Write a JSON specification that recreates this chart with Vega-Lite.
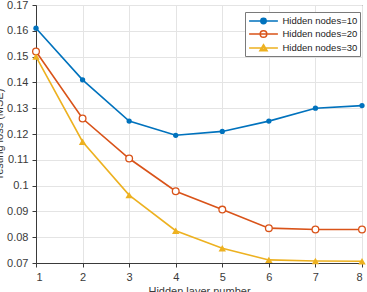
{
  "$schema": "https://vega.github.io/schema/vega-lite/v6.json",
  "autosize": {"type": "none"},
  "width": 326,
  "height": 258,
  "padding": {"left": 36, "top": 5, "right": 5, "bottom": 29},
  "background": "white",
  "config": {
    "font": "Liberation Sans",
    "view": {"stroke": "#3a3a3a", "strokeWidth": 1},
    "axis": {
      "domainColor": "#3a3a3a",
      "tickColor": "#3a3a3a",
      "gridColor": "#e4e4e4",
      "labelColor": "#3a3a3a",
      "titleColor": "#3a3a3a",
      "labelFont": "Liberation Sans",
      "titleFont": "Liberation Sans",
      "labelFontSize": 11,
      "titleFontSize": 11,
      "titleFontWeight": "normal"
    }
  },
  "data": {
    "values": [
      {"layers": 1, "loss": 0.161, "series": "Hidden nodes=10"},
      {"layers": 2, "loss": 0.141, "series": "Hidden nodes=10"},
      {"layers": 3, "loss": 0.125, "series": "Hidden nodes=10"},
      {"layers": 4, "loss": 0.1195, "series": "Hidden nodes=10"},
      {"layers": 5, "loss": 0.121, "series": "Hidden nodes=10"},
      {"layers": 6, "loss": 0.125, "series": "Hidden nodes=10"},
      {"layers": 7, "loss": 0.130, "series": "Hidden nodes=10"},
      {"layers": 8, "loss": 0.131, "series": "Hidden nodes=10"},
      {"layers": 1, "loss": 0.152, "series": "Hidden nodes=20"},
      {"layers": 2, "loss": 0.126, "series": "Hidden nodes=20"},
      {"layers": 3, "loss": 0.1105, "series": "Hidden nodes=20"},
      {"layers": 4, "loss": 0.0978, "series": "Hidden nodes=20"},
      {"layers": 5, "loss": 0.0907, "series": "Hidden nodes=20"},
      {"layers": 6, "loss": 0.0835, "series": "Hidden nodes=20"},
      {"layers": 7, "loss": 0.083, "series": "Hidden nodes=20"},
      {"layers": 8, "loss": 0.083, "series": "Hidden nodes=20"},
      {"layers": 1, "loss": 0.150, "series": "Hidden nodes=30"},
      {"layers": 2, "loss": 0.117, "series": "Hidden nodes=30"},
      {"layers": 3, "loss": 0.0963, "series": "Hidden nodes=30"},
      {"layers": 4, "loss": 0.0825, "series": "Hidden nodes=30"},
      {"layers": 5, "loss": 0.0757, "series": "Hidden nodes=30"},
      {"layers": 6, "loss": 0.0712, "series": "Hidden nodes=30"},
      {"layers": 7, "loss": 0.0708, "series": "Hidden nodes=30"},
      {"layers": 8, "loss": 0.0707, "series": "Hidden nodes=30"}
    ]
  },
  "encoding": {
    "x": {
      "field": "layers", "type": "quantitative",
      "scale": {"domain": [1, 8], "nice": false},
      "axis": {"title": "Hidden layer number", "values": [1,2,3,4,5,6,7,8], "tickSize": 4, "labelPadding": 4, "titlePadding": 3}
    },
    "y": {
      "field": "loss", "type": "quantitative",
      "scale": {"domain": [0.07, 0.17], "nice": false, "zero": false},
      "axis": {"title": "Testing loss (MSE)", "values": [0.07,0.08,0.09,0.1,0.11,0.12,0.13,0.14,0.15,0.16,0.17], "format": "~g", "tickSize": 4, "labelPadding": 4, "titlePadding": 2}
    }
  },
  "layer": [
    {
      "mark": {"type": "line", "strokeWidth": 1.6},
      "encoding": {
        "stroke": {
          "field": "series", "type": "nominal",
          "scale": {"domain": ["Hidden nodes=10", "Hidden nodes=20", "Hidden nodes=30"], "range": ["#0072BD", "#D95319", "#EDB120"]},
          "legend": {"title": null}
        }
      }
    },
    {
      "transform": [{"filter": "datum.series === 'Hidden nodes=10'"}],
      "mark": {"type": "point", "shape": "circle", "filled": true, "opacity": 1, "size": 28, "color": "#0072BD"}
    },
    {
      "transform": [{"filter": "datum.series === 'Hidden nodes=20'"}],
      "mark": {"type": "point", "shape": "circle", "filled": false, "opacity": 1, "size": 45, "strokeWidth": 1.3, "stroke": "#D95319", "fill": "white"}
    },
    {
      "transform": [{"filter": "datum.series === 'Hidden nodes=30'"}],
      "mark": {"type": "point", "shape": "triangle-up", "filled": true, "opacity": 1, "size": 55, "color": "#EDB120"}
    },
    {
      "mark": {"type": "point", "filled": true, "opacity": 0, "strokeWidth": 1.5},
      "encoding": {
        "shape": {
          "field": "series", "type": "nominal",
          "scale": {"domain": ["Hidden nodes=10", "Hidden nodes=20", "Hidden nodes=30"], "range": [
            "M-2.4,0L2.4,0M-0.45,0A0.45,0.45,0,1,0,0.45,0A0.45,0.45,0,1,0,-0.45,0ZM-0.28,0A0.28,0.28,0,1,0,0.28,0A0.28,0.28,0,1,0,-0.28,0ZM-0.12,0A0.12,0.12,0,1,0,0.12,0A0.12,0.12,0,1,0,-0.12,0Z",
            "M-2.4,0L2.4,0M-0.55,0A0.55,0.55,0,1,0,0.55,0A0.55,0.55,0,1,0,-0.55,0Z",
            "M-2.4,0L2.4,0M0,-0.55L0.6,0.45L-0.6,0.45ZM0,-0.22L0.3,0.28L-0.3,0.28Z"
          ]},
          "legend": {
            "title": null,
            "orient": "none",
            "legendX": 209,
            "legendY": 7,
            "padding": 2,
            "strokeColor": "#7a7a7a",
            "fillColor": "white",
            "labelFontSize": 9.5,
            "labelColor": "#222222",
            "labelFont": "Liberation Sans",
            "symbolSize": 144,
            "symbolStrokeWidth": 1.5,
            "symbolOpacity": 1,
            "symbolOffset": 9.5,
            "rowPadding": 0,
            "labelOffset": 12,
            "encode": {"symbols": {"update": {"opacity": {"value": 1}, "fillOpacity": {"value": 1}, "strokeOpacity": {"value": 1}, "size": {"value": 144}, "fill": {"scale": "fill", "field": "value"}, "stroke": {"scale": "stroke", "field": "value"}}}}
          }
        },
        "fill": {
          "field": "series", "type": "nominal",
          "scale": {"domain": ["Hidden nodes=10", "Hidden nodes=20", "Hidden nodes=30"], "range": ["#0072BD", "white", "#EDB120"]},
          "legend": {"title": null}
        },
        "stroke": {"field": "series", "type": "nominal", "legend": {"title": null}}
      }
    }
  ]
}
